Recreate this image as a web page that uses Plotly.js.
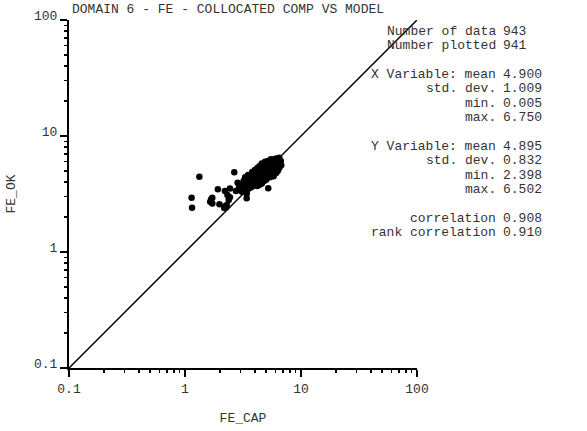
<!DOCTYPE html>
<html>
<head>
<meta charset="utf-8">
<script src="https://cdn.plot.ly/plotly-3.0.1.min.js"></script>
<style>html,body{margin:0;padding:0;background:#fff;}#chart{width:587px;height:431px;}</style>
</head>
<body>
<div id="chart"></div>
<script>
// ---- data ----
var outlierX = [1.33, 1.14, 1.15, 1.68, 1.65, 1.72, 1.72, 1.92, 1.98, 2.21, 2.32, 2.44, 2.38, 2.29, 2.26, 2.18, 2.21, 2.66, 2.84, 2.75, 2.94, 2.98, 2.44, 2.86, 3.40, 3.40, 5.22];
var outlierY = [4.46, 2.94, 2.41, 2.85, 2.71, 2.94, 2.62, 3.47, 2.58, 3.36, 3.10, 2.97, 2.81, 2.54, 2.42, 2.40, 2.48, 4.87, 3.96, 3.36, 3.66, 3.78, 3.53, 3.43, 2.90, 3.18, 3.55];
var clusterX = [3.0, 3.1, 3.2, 3.1, 3.3, 3.3, 3.4, 3.5, 3.5, 3.6, 3.2, 3.4,
  3.7, 3.7, 3.8, 3.8, 3.9, 3.9, 4.0, 4.0, 4.0, 4.1, 4.1, 4.2, 4.2, 4.2, 3.6, 3.85,
  4.3, 4.3, 4.3, 4.4, 4.4, 4.5, 4.5, 4.5, 4.6, 4.6, 4.7, 4.7, 4.7, 4.8, 4.8, 4.8, 4.9, 4.9, 4.9, 4.4,
  5.0, 5.0, 5.0, 5.1, 5.1, 5.2, 5.2, 5.2, 5.3, 5.3, 5.4, 5.4, 5.4, 5.5, 5.5, 5.5, 5.6, 5.6, 5.6,
  5.7, 5.7, 5.8, 5.8, 5.9, 5.9, 6.0, 6.0, 6.1, 6.1, 6.2, 6.2, 6.3, 6.3, 6.4, 6.4, 6.5, 6.5, 6.6, 6.7, 6.75];
var clusterY = [3.5, 3.8, 4.1, 3.3, 3.6, 4.4, 3.9, 4.6, 3.5, 4.2, 3.45, 3.3,
  3.6, 4.0, 4.5, 4.9, 3.7, 4.2, 3.8, 4.6, 5.1, 4.0, 4.4, 3.7, 4.8, 5.3, 3.8, 4.3,
  4.1, 4.5, 5.0, 3.8, 5.5, 4.3, 4.7, 5.2, 3.9, 5.8, 4.4, 4.9, 5.4, 4.1, 5.0, 5.7, 4.6, 5.3, 6.0, 4.8,
  4.2, 4.8, 5.5, 5.1, 5.9, 4.5, 5.3, 6.1, 4.9, 5.7, 4.4, 5.2, 6.0, 4.8, 5.5, 6.3, 5.0, 5.8, 4.6,
  5.3, 6.1, 4.5, 5.6, 6.3, 5.0, 5.4, 5.9, 4.8, 6.4, 5.2, 5.7, 6.2, 5.0, 5.5, 6.0, 5.3, 6.5, 5.8, 6.1, 5.6];
var refLineX = [0.1, 100];
var refLineY = [0.1, 100];

var majorTicks = [0.1, 1, 10, 100];
var majorTickText = ["0.1", "1", "10", "100"];
var minorTicks = [0.2,0.3,0.4,0.5,0.6,0.7,0.8,0.9,2,3,4,5,6,7,8,9,20,30,40,50,60,70,80,90];

var titleText = "DOMAIN 6 - FE - COLLOCATED COMP VS MODEL";
var xTitle = "FE_CAP";
var yTitle = "FE_OK";
var statLabels = ["Number of data", "Number plotted", "", "X Variable: mean", "std. dev.", "min.", "max.", "", "Y Variable: mean", "std. dev.", "min.", "max.", "", "correlation", "rank correlation"];
var statValues = ["943", "941", "", "4.900", "1.009", "0.005", "6.750", "", "4.895", "0.832", "2.398", "6.502", "", "0.908", "0.910"];

// ---- layout helpers ----
var W = 587, H = 431;
var M = {l: 69, r: 170, t: 20, b: 63};
var PW = W - M.l - M.r, PH = H - M.t - M.b;
function px(x) { return (x - M.l) / PW; }
function py(y) { return (M.t + PH - y) / PH; }

var FONT = "Courier New, Liberation Mono, monospace";
var TXT = "#333";

var annotations = [];
annotations.push({xref: "paper", yref: "paper", x: px(70), y: py(10), xanchor: "left", yanchor: "middle",
  text: titleText, showarrow: false, font: {family: FONT, size: 13, color: TXT}});
for (var i = 0; i < statLabels.length; i++) {
  if (!statLabels[i]) continue;
  var yy = 31 + i * 14.4;
  annotations.push({xref: "paper", yref: "paper", x: px(498), y: py(yy), xanchor: "right", yanchor: "middle",
    text: statLabels[i], showarrow: false, font: {family: FONT, size: 13, color: TXT}});
  annotations.push({xref: "paper", yref: "paper", x: px(501), y: py(yy), xanchor: "left", yanchor: "middle",
    text: statValues[i], showarrow: false, font: {family: FONT, size: 13, color: TXT}});
}

var axisCommon = {
  type: "log", range: [-1, 2], showgrid: false, zeroline: false,
  showline: true, linecolor: "#000", linewidth: 2,
  ticks: "outside", ticklen: 7, tickwidth: 2, tickcolor: "#000",
  tickmode: "array", tickvals: majorTicks, ticktext: majorTickText,
  tickfont: {family: FONT, size: 13, color: TXT}
};
// overlay axes that carry only the minor ticks
var minorAxis = {
  type: "log", range: [-1, 2], showgrid: false, zeroline: false, showline: false,
  ticks: "outside", ticklen: 4, tickwidth: 1.5, tickcolor: "#000",
  tickmode: "array", tickvals: minorTicks, showticklabels: false
};

var layout = {
  width: W, height: H, margin: M,
  paper_bgcolor: "#fff", plot_bgcolor: "#fff",
  showlegend: false,
  xaxis: Object.assign({}, axisCommon, {title: {text: xTitle, standoff: 17, font: {family: FONT, size: 13, color: TXT}}}),
  yaxis: Object.assign({}, axisCommon, {ticklabelshift: -5, title: {text: yTitle, standoff: 15, font: {family: FONT, size: 13, color: TXT}}}),
  xaxis2: Object.assign({}, minorAxis, {overlaying: "x", anchor: "y2", side: "bottom"}),
  yaxis2: Object.assign({}, minorAxis, {overlaying: "y", anchor: "x2", side: "left"}),
  annotations: annotations
};

var data = [
  {x: refLineX, y: refLineY, type: "scatter", mode: "lines", line: {color: "#000", width: 1.5}, hoverinfo: "skip", cliponaxis: true},
  {x: clusterX.concat(outlierX), y: clusterY.concat(outlierY), type: "scatter", mode: "markers",
   marker: {color: "#000", size: 6.5, line: {width: 0}}},
  {x: refLineX, y: refLineY, xaxis: "x2", yaxis: "y2", type: "scatter", mode: "lines", line: {width: 0, color: "rgba(0,0,0,0)"}, hoverinfo: "skip"}
];

Plotly.newPlot("chart", data, layout, {staticPlot: true, displayModeBar: false});
</script>
</body>
</html>
